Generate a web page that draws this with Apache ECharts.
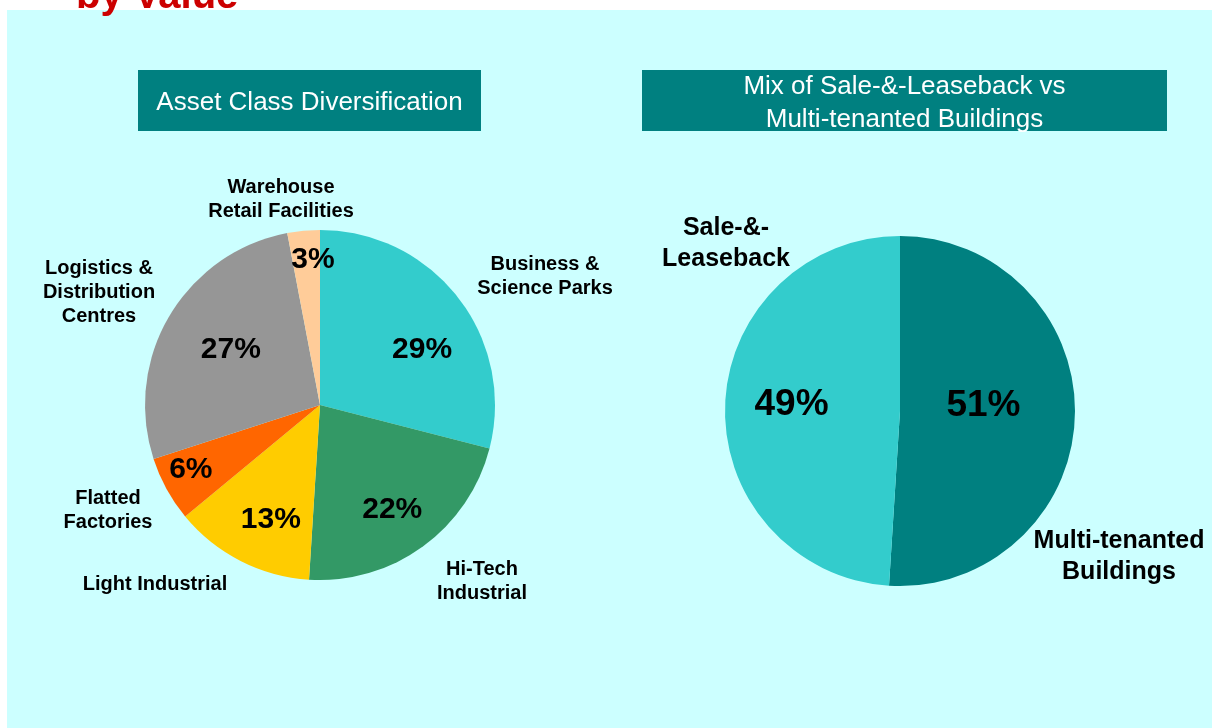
<!DOCTYPE html>
<html>
<head>
<meta charset="utf-8">
<script src="https://cdn.jsdelivr.net/npm/echarts@6/dist/echarts.min.js"></script>
<style>
html, body { margin: 0; padding: 0; background: #fff; }
#main { width: 1212px; height: 728px; }
</style>
</head>
<body>
<div id="main"></div>
<script>
// asset class split (percent of value)
var assetNames = ['Business &\nScience Parks', 'Hi-Tech\nIndustrial', 'Light Industrial',
    'Flatted\nFactories', 'Logistics &\nDistribution\nCentres', 'Warehouse\nRetail Facilities'];
var assetValues = [29, 22, 13, 6, 27, 3];

// sale-&-leaseback vs multi-tenanted
var mixNames = ['Multi-tenanted\nBuildings', 'Sale-&-\nLeaseback'];
var mixValues = [51, 49];

var assetColors = ['#33CCCC', '#339966', '#FFCC00', '#FF6600', '#969696', '#FFCC99'];
var mixColors = ['#008080', '#33CCCC'];

var FONT = '"Liberation Sans", Arial, sans-serif';

var chart = echarts.init(document.getElementById('main'));

function pieData(names, values, colors) {
    return names.map(function (n, i) {
        return { name: n, value: values[i], itemStyle: { color: colors ? colors[i] : 'rgba(0,0,0,0)' } };
    });
}

function basePie(center, names, values, colors) {
    return {
        type: 'pie',
        center: center,
        radius: [0, 175],
        startAngle: 90,
        silent: true,
        label: { show: false },
        labelLine: { show: false },
        emphasis: { disabled: true },
        data: pieData(names, values, colors)
    };
}

// percent labels sit on a transparent ring, then get a small hand nudge
function labelPie(center, inner, names, values, fontSize, nudges) {
    return {
        type: 'pie',
        center: center,
        radius: [inner, 175],
        startAngle: 90,
        silent: true,
        z: 3,
        label: {
            show: true,
            position: 'inside',
            formatter: function (p) { return p.value + '%'; },
            fontFamily: FONT,
            fontWeight: 'bold',
            fontSize: fontSize,
            color: '#000'
        },
        labelLayout: function (p) {
            var n = nudges[p.dataIndex];
            return { dx: n[0], dy: n[1] };
        },
        labelLine: { show: false },
        emphasis: { disabled: true },
        data: pieData(names, values, null)
    };
}

// outside category labels
var leftSpots = [[545, 276], [482, 581], [155, 584], [108, 510], [99, 292], [281, 199]];
var rightSpots = [[1119, 557], [726, 244]];

var graphics = [
    { type: 'rect', z: -10, shape: { x: 7, y: 10, width: 1205, height: 718 }, style: { fill: '#CCFFFF' } },
    { type: 'text', z: 10, style: { x: 76, y: -3, text: 'by Value', fill: '#CC0000',
        font: 'bold 40px ' + FONT, textAlign: 'left', textVerticalAlign: 'middle' } },
    { type: 'rect', z: 5, shape: { x: 138, y: 70, width: 343, height: 61 }, style: { fill: '#008080' } },
    { type: 'text', z: 6, style: { x: 309.5, y: 103, text: 'Asset Class Diversification', fill: '#fff',
        font: '26px ' + FONT, textAlign: 'center', textVerticalAlign: 'middle' } },
    { type: 'rect', z: 5, shape: { x: 642, y: 70, width: 525, height: 61 }, style: { fill: '#008080' } },
    { type: 'text', z: 6, style: { x: 904.5, y: 103, text: 'Mix of Sale-&-Leaseback vs\nMulti-tenanted Buildings',
        fill: '#fff', font: '26px ' + FONT, lineHeight: 33, textAlign: 'center', textVerticalAlign: 'middle' } }
];

assetNames.forEach(function (n, i) {
    graphics.push({ type: 'text', z: 6, style: { x: leftSpots[i][0], y: leftSpots[i][1], text: n, fill: '#000',
        font: 'bold 20px ' + FONT, lineHeight: 24, textAlign: 'center', textVerticalAlign: 'middle' } });
});
mixNames.forEach(function (n, i) {
    graphics.push({ type: 'text', z: 6, style: { x: rightSpots[i][0], y: rightSpots[i][1], text: n, fill: '#000',
        font: 'bold 25px ' + FONT, lineHeight: 31, textAlign: 'center', textVerticalAlign: 'middle' } });
});

var option = {
    animation: false,
    backgroundColor: '#fff',
    graphic: graphics,
    series: [
        basePie([320, 405], assetNames, assetValues, assetColors),
        labelPie([320, 405], 75, assetNames, assetValues, 30,
            [[1, 23], [-3, 1], [9, 1], [-17, 3], [21, 10], [5, -18]]),
        basePie([900, 411], mixNames, mixValues, mixColors),
        labelPie([900, 411], 20, mixNames, mixValues, 37, [[-17, -8], [-8, -3]])
    ]
};

chart.setOption(option);

window.onresize = chart.resize;
</script>
</body>
</html>
